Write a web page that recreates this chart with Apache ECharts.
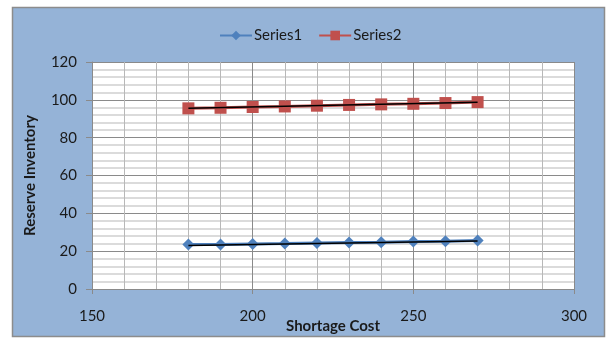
<!DOCTYPE html>
<html>
<head>
<meta charset="utf-8">
<script src="https://cdn.jsdelivr.net/npm/echarts@6/dist/echarts.min.js"></script>
<style>
  html, body { margin: 0; padding: 0; background: #ffffff; }
  #chart { width: 607px; height: 338px; }
</style>
</head>
<body>
<div id="chart"></div>
<script>
// Shortage cost values along the x axis
const shortageCost = [180, 190, 200, 210, 220, 230, 240, 250, 260, 270];
// Reserve inventory for each series
const series1 = [23.5, 23.5, 23.8, 24.0, 24.3, 24.6, 24.7, 25.1, 25.2, 25.6];
const series2 = [95.5, 95.8, 96.2, 96.5, 96.9, 97.3, 97.6, 97.9, 98.3, 98.8];
// Linear trend line end points
const trendX = [180, 270];
const trend1 = [23.0, 25.4];
const trend2 = [95.5, 98.7];

const FONT = 'Lato';
const pairs = (xs, ys) => xs.map((x, i) => [x, ys[i]]);

const chart = echarts.init(document.getElementById('chart'), null, { renderer: 'canvas' });
chart.setOption({
  animation: false,
  backgroundColor: '#ffffff',
  textStyle: { fontFamily: FONT },
  graphic: [{
    type: 'rect',
    z: -10,
    shape: { x: 12.5, y: 7.5, width: 592, height: 329 },
    style: { fill: '#95B3D7', stroke: '#8c8c8c', lineWidth: 1.5 }
  }],
  legend: {
    top: 23,
    left: 214,
    itemWidth: 32,
    itemHeight: 12,
    itemGap: 16,
    data: ['Series1', 'Series2'],
    textStyle: { fontFamily: FONT, fontSize: 15, color: '#1a1a1a', padding: [0, 0, 0, -3] }
  },
  grid: {
    left: 92, top: 62, right: 33, bottom: 49,
    outerBoundsMode: 'none',
    containLabel: false,
    show: true, backgroundColor: '#ffffff', borderWidth: 0
  },
  xAxis: {
    type: 'value',
    min: 150, max: 300, interval: 50,
    name: 'Shortage Cost',
    nameLocation: 'middle',
    nameGap: 30,
    nameMoveOverlap: false,
    nameTextStyle: { fontFamily: FONT, fontSize: 15, fontWeight: 'bold', color: '#1a1a1a' },
    axisLine: { show: true, lineStyle: { color: '#8a8a8a', width: 1 } },
    axisTick: { show: true, length: 5, lineStyle: { color: '#8a8a8a' } },
    axisLabel: { margin: 20, fontFamily: FONT, fontSize: 15, color: '#1a1a1a' },
    splitLine: { show: true, lineStyle: { color: '#8a8a8a', width: 1 } },
    minorTick: { show: false, splitNumber: 5 },
    minorSplitLine: { show: true, lineStyle: { color: '#b8b8b8', width: 1 } }
  },
  yAxis: {
    type: 'value',
    min: 0, max: 120, interval: 20,
    name: 'Reserve Inventory',
    nameLocation: 'middle',
    nameGap: 54,
    nameRotate: 90,
    nameMoveOverlap: false,
    nameTextStyle: { fontFamily: FONT, fontSize: 15, fontWeight: 'bold', color: '#1a1a1a' },
    axisLine: { show: true, lineStyle: { color: '#8a8a8a', width: 1 } },
    axisTick: { show: true, length: 6, lineStyle: { color: '#8a8a8a' } },
    axisLabel: { margin: 15, fontFamily: FONT, fontSize: 15, color: '#1a1a1a' },
    splitLine: { show: true, lineStyle: { color: '#8a8a8a', width: 1 } },
    minorTick: { show: false, splitNumber: 5 },
    minorSplitLine: { show: true, lineStyle: { color: '#cfcfcf', width: 1.5 } }
  },
  series: [
    {
      name: 'Series1', type: 'line',
      data: pairs(shortageCost, series1),
      symbol: 'diamond', symbolSize: 12,
      itemStyle: { color: '#4F81BD' },
      lineStyle: { color: '#4F81BD', width: 3 },
      z: 3
    },
    {
      name: 'Series2', type: 'line',
      data: pairs(shortageCost, series2),
      symbol: 'rect', symbolSize: 12,
      itemStyle: { color: '#C0504D' },
      lineStyle: { color: '#C0504D', width: 3 },
      z: 3
    },
    {
      name: 'trend1', type: 'line',
      data: pairs(trendX, trend1),
      symbol: 'none', silent: true,
      lineStyle: { color: '#000000', width: 1.5 },
      z: 5
    },
    {
      name: 'trend2', type: 'line',
      data: pairs(trendX, trend2),
      symbol: 'none', silent: true,
      lineStyle: { color: '#000000', width: 1.5 },
      z: 5
    }
  ]
});
</script>
</body>
</html>
